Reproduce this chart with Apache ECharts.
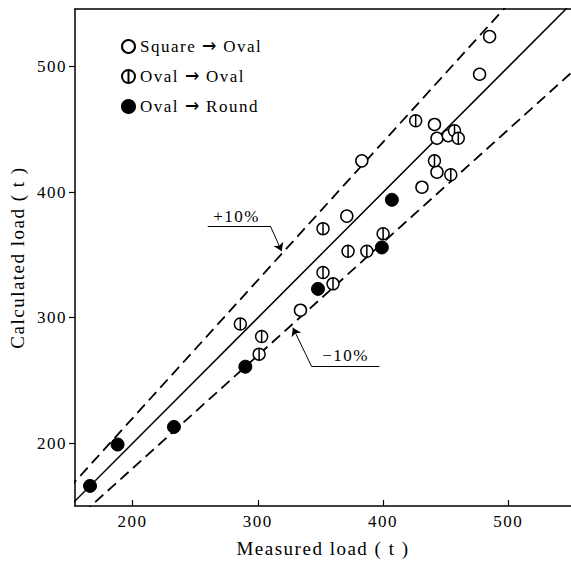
<!DOCTYPE html>
<html>
<head>
<meta charset="utf-8">
<script src="https://cdn.jsdelivr.net/npm/echarts@6/dist/echarts.min.js"></script>
<style>
  html, body { margin: 0; padding: 0; background: #fff; }
  /* 原图字距较宽，svg 文本会继承 */
  #chart { width: 571px; height: 563px; letter-spacing: 1.5px; }
  /* 图例里的箭头借用 DejaVu Sans 字形 */
  @font-face {
    font-family: "ArrowSans";
    src: local("DejaVu Sans"), local("DejaVuSans");
    unicode-range: U+2192;
  }
</style>
</head>
<body>
<div id="chart"></div>
<script>
// 测量值 / 计算值 (t)
const squareOval = [
  [334, 306], [371, 381], [383, 425], [431, 404], [441, 454],
  [443, 443], [452, 445], [443, 416], [477, 494], [485, 524]
];
const ovalOval = [
  [286, 295], [303, 285], [301, 271], [352, 371], [352, 336],
  [360, 327], [372, 353], [387, 353], [400, 367], [426, 457],
  [457, 449], [460, 443], [441, 425], [454, 414]
];
const ovalRound = [
  [166, 166], [188, 199], [233, 213], [290, 261], [348, 323],
  [399, 356], [407, 394]
];
// 参考线端点
const lineEqual = [[150, 150], [560, 560]];
const linePlus10 = [[140, 154], [510, 561]];
const lineMinus10 = [[160, 144], [560, 504]];
// 刻度
const xTicks = [200, 300, 400, 500];
const yTicks = [200, 300, 400, 500];
// 标注引线
const plusLeader = [[260, 373], [310, 373], [319, 353]];
const plusText = [283, 381];
const minusLeader = [[397, 261], [343, 261], [328, 292]];
const minusText = [370, 270];

const names = ["Square \u2192 Oval", "Oval \u2192 Oval", "Oval \u2192 Round"];
const font = "'Liberation Serif', 'Times New Roman', serif";
const halfCircle = "path://M10,0 A10,10 0 1,1 10,20 A10,10 0 1,1 10,0 Z M10,0 L10,20";

const chart = echarts.init(document.getElementById("chart"), null, { renderer: "svg" });

function refLine(data, dashed) {
  return {
    type: "line",
    data: data,
    showSymbol: false,
    silent: true,
    z: 1,
    lineStyle: { color: "#000", width: dashed ? 1.8 : 1.5, type: dashed ? [11, 6] : "solid" },
  };
}

function leader(pts) {
  return [
    [{ coord: pts[0], symbol: "none" }, { coord: pts[1], symbol: "none" }],
    [{ coord: pts[1], symbol: "none" }, { coord: pts[2], symbol: "arrow" }],
  ];
}

const annoLabel = { show: true, position: "inside", fontFamily: font, fontSize: 17, color: "#000" };

const options = {
  animation: false,
  backgroundColor: "#fff",
  grid: { left: 75, right: 0, top: 9, bottom: 53, containLabel: false },
  legend: {
    orient: "vertical",
    left: 116,
    top: 33,
    itemWidth: 13,
    itemHeight: 13,
    itemGap: 13,
    data: names,
    textStyle: { fontFamily: "'ArrowSans', " + font, fontSize: 17, color: "#000" },
  },
  xAxis: [
    {
      type: "value",
      min: 154,
      max: 550,
      name: "Measured load ( t )",
      nameLocation: "middle",
      nameGap: 33,
      nameTextStyle: { fontFamily: font, fontSize: 19, color: "#000" },
      axisLine: { lineStyle: { color: "#000", width: 1.5 } },
      axisTick: { inside: true, length: 6, customValues: xTicks, lineStyle: { color: "#000", width: 1.2 } },
      axisLabel: { customValues: xTicks, margin: 7, fontFamily: font, fontSize: 17, color: "#000" },
      splitLine: { show: false },
    },
    {
      // 上边框
      type: "value",
      position: "top",
      min: 154,
      max: 550,
      axisLine: { show: true, lineStyle: { color: "#000", width: 1.5 } },
      axisTick: { show: false },
      axisLabel: { show: false },
      splitLine: { show: false },
    },
  ],
  yAxis: {
    type: "value",
    min: 150,
    max: 546,
    name: "Calculated load ( t )",
    nameLocation: "middle",
    nameGap: 48,
    nameTextStyle: { fontFamily: font, fontSize: 19, color: "#000" },
    axisLine: { show: true, lineStyle: { color: "#000", width: 1.5 } },
    axisTick: { show: true, length: 6, customValues: yTicks, lineStyle: { color: "#000", width: 1.2 } },
    axisLabel: { customValues: yTicks, margin: 8, fontFamily: font, fontSize: 17, color: "#000" },
    splitLine: { show: false },
  },
  series: [
    Object.assign(refLine(lineEqual, false), {
      markLine: {
        silent: true,
        symbolSize: 8,
        label: { show: false },
        lineStyle: { color: "#000", width: 1, type: "solid" },
        data: leader(plusLeader).concat(leader(minusLeader)),
      },
      markPoint: {
        symbol: "circle",
        symbolSize: 0,
        data: [
          { coord: plusText, label: Object.assign({ formatter: "+10%" }, annoLabel) },
          { coord: minusText, label: Object.assign({ formatter: "\u221210%" }, annoLabel) },
        ],
      },
    }),
    refLine(linePlus10, true),
    refLine(lineMinus10, true),
    {
      name: names[0],
      type: "scatter",
      data: squareOval,
      symbol: "circle",
      symbolSize: 12,
      z: 3,
      itemStyle: { color: "#fff", borderColor: "#000", borderWidth: 1.5, opacity: 1 },
    },
    {
      name: names[1],
      type: "scatter",
      data: ovalOval,
      symbol: halfCircle,
      symbolSize: 12,
      z: 3,
      itemStyle: { color: "#fff", borderColor: "#000", borderWidth: 1.5, opacity: 1 },
    },
    {
      name: names[2],
      type: "scatter",
      data: ovalRound,
      symbol: "circle",
      symbolSize: 13,
      z: 3,
      itemStyle: { color: "#000", borderColor: "#000", borderWidth: 1, opacity: 1 },
    },
  ],
};
chart.setOption(options);
</script>
</body>
</html>
